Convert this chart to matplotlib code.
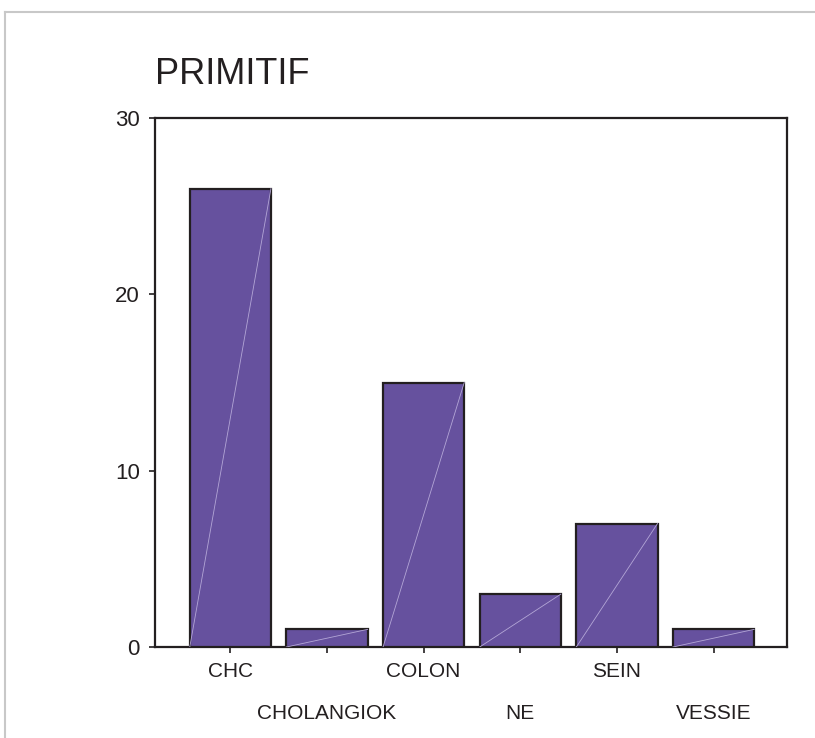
import matplotlib.pyplot as plt
import matplotlib.font_manager as fm
import numpy as np
from matplotlib.lines import Line2D

categories = ["CHC", "CHOLANGIOK", "COLON", "NE", "SEIN", "VESSIE"]
counts = [26, 1, 15, 3, 7, 1]
yticks = [0, 10, 20, 30]

_avail = {f.name for f in fm.fontManager.ttflist}
FONT = "Liberation Sans" if "Liberation Sans" in _avail else "DejaVu Sans"
INK = "#231F20"
FILL = "#66519E"

plt.rcParams.update({"font.family": [FONT, "DejaVu Sans"], "text.color": INK,
                     "xtick.color": INK, "ytick.color": INK})

fig = plt.figure(figsize=(8.15, 7.38), dpi=100)
ax = fig.add_axes([155 / 815, 1 - 647 / 738, (787 - 155) / 815, (647 - 118) / 738])

x = np.arange(len(categories))
w = 0.84
ax.bar(x, counts, width=w, color=FILL, edgecolor=INK, linewidth=1.6, zorder=3)
for xi, v in zip(x, counts):
    ax.plot([xi - w / 2, xi + w / 2], [0, v], color="#B3A6D6", lw=0.6, zorder=4)

ax.set_xlim(-0.78, len(categories) - 1 + 0.76)
ax.set_ylim(0, 30)
ax.set_yticks(yticks)
ax.set_yticklabels([str(t) for t in yticks], fontsize=16)
ax.set_xticks(x)
ax.set_xticklabels(categories, fontsize=15)
for i, t in enumerate(ax.xaxis.get_major_ticks()):
    t.set_pad(7 if i % 2 == 0 else 37)
ax.tick_params(axis="y", direction="out", length=4, width=1.2, pad=7)
ax.tick_params(axis="x", direction="out", length=4, width=1.2)
for s in ax.spines.values():
    s.set_color(INK)
    s.set_linewidth(1.6)

fig.text(155 / 815, 1 - 84 / 738, "PRIMITIF", fontsize=26,
         ha="left", va="baseline", color=INK)

# outer grey frame
fig.add_artist(Line2D([5 / 815, 1], [1 - 12 / 738] * 2, transform=fig.transFigure,
                      color="#C8C8C8", lw=1.5))
fig.add_artist(Line2D([5 / 815] * 2, [0, 1 - 12 / 738], transform=fig.transFigure,
                      color="#C8C8C8", lw=1.5))

fig.savefig("out.png", dpi=100, facecolor="white")
